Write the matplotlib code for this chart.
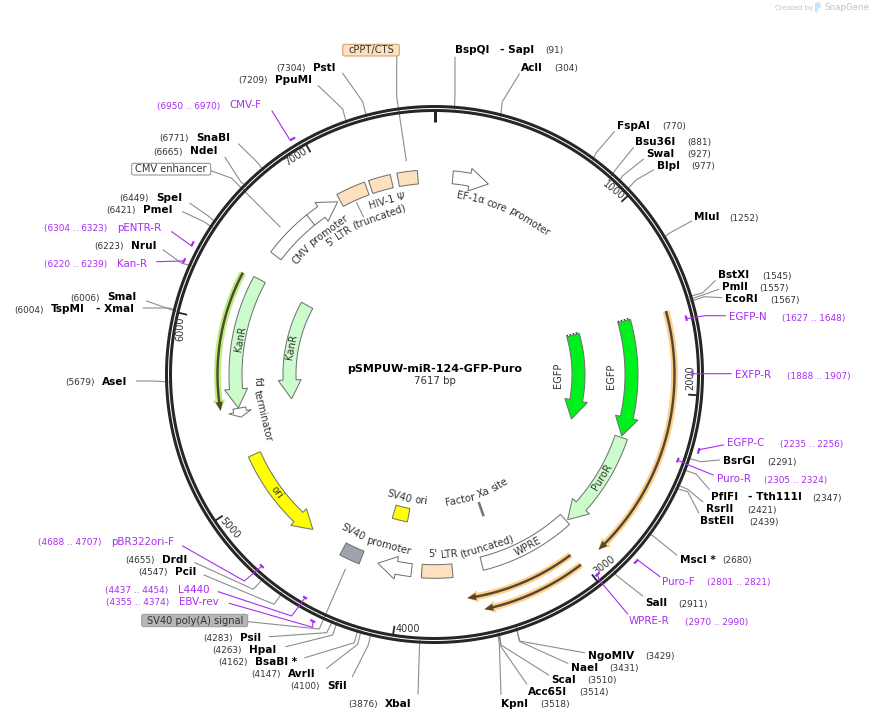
#!/usr/bin/env python3
# plasmid map of pSMPUW-miR-124-GFP-Puro
import numpy as np
import matplotlib
matplotlib.use('Agg')
from matplotlib import pyplot as plt
from matplotlib.patches import Polygon, FancyBboxPatch
from matplotlib.textpath import TextPath
from matplotlib.font_manager import FontProperties

plasmid_name = 'pSMPUW-miR-124-GFP-Puro'
plasmid_len = 7617
tick_bp = [1000, 2000, 3000, 4000, 5000, 6000, 7000]

# restriction sites
site_names = ['BspQI', 'AclI', 'FspAI', 'Bsu36I', 'SwaI', 'BlpI', 'MluI', 'BstXI', 'PmlI',
              'EcoRI', 'BsrGI', 'PflFI', 'RsrII', 'BstEII', 'MscI *', 'SalI', 'NgoMIV', 'NaeI',
              'ScaI', 'Acc65I', 'KpnI', 'XbaI', 'SfiI', 'AvrII', 'BsaBI *', 'HpaI', 'PsiI',
              'PciI', 'DrdI', 'AseI', 'TspMI', 'SmaI', 'NruI', 'PmeI', 'SpeI', 'NdeI', 'SnaBI',
              'PpuMI', 'PstI']
site_bp = [91, 304, 770, 881, 927, 977, 1252, 1545, 1557,
           1567, 2291, 2347, 2421, 2439, 2680, 2911, 3429, 3431,
           3510, 3514, 3518, 3876, 4100, 4147, 4162, 4263, 4283,
           4547, 4655, 5679, 6004, 6006, 6223, 6421, 6449, 6665, 6771,
           7209, 7304]
# second name of sites cut by an isoschizomer pair
site_extra = {'BspQI': '- SapI', 'PflFI': '- Tth111I', 'TspMI': '- XmaI'}

# primers
primer_names = ['EGFP-N', 'EXFP-R', 'EGFP-C', 'Puro-R', 'Puro-F', 'WPRE-R', 'EBV-rev', 'L4440',
                'pBR322ori-F', 'Kan-R', 'pENTR-R', 'CMV-F']
primer_start = [1627, 1888, 2235, 2305, 2801, 2970, 4355, 4437, 4688, 6220, 6304, 6950]
primer_end = [1648, 1907, 2256, 2324, 2821, 2990, 4374, 4454, 4707, 6239, 6323, 6970]

# directional features, tail -> tip in bp
arrow_names = ['CMV promoter', 'EF-1\u03b1 core promoter', 'EGFP', 'EGFP', 'PuroR', 'SV40 promoter',
               'ori', 'fd terminator', 'KanR', 'KanR']
arrow_tail = [6491, 112, 1572, 1570, 2298, 3950, 5207, 5506, 6316, 6316]
arrow_tip = [6997, 334, 2289, 2285, 2909, 4162, 4615, 5450, 5508, 5508]

# block features
block_names = ["5' LTR (truncated)", 'HIV-1 \u03a8', 'cPPT/CTS', 'WPRE', "5' LTR (truncated)",
               'SV40 ori', 'SV40 poly(A) signal']
block_start = [7014, 7219, 7393, 2920, 3698, 4029, 4268]
block_end = [7194, 7353, 7515, 3512, 3887, 4155, 4394]

cmv_enhancer_end = 6798
xa_site_bp = 3404

# thin translated features drawn near the backbone, tail -> tip
thin_tail = [1580, 3026, 3013, 6305]
thin_tip = [2897, 3633, 3555, 5508]

# ---- layout, all in pixels of the 872x721 picture ----
cx, cy = 434.5, 374.5
r_out = 269.5

# name x, number x, y, then the leader points from the knee outwards
site_layout = {
    'BspQI': (455.3, 545.3, 50, [(455, 93.3), (455, 57.3)]),
    'AclI': (521.3, 554.3, 68, [(502.3, 101.7), (519.3, 74)]),
    'FspAI': (617.3, 662.3, 126, [(596, 153), (614.3, 131.7)]),
    'Bsu36I': (635.3, 687.3, 142, [(615.3, 170), (633.3, 147.7)]),
    'SwaI': (646, 687.3, 154, [(622.7, 175.7), (643.3, 159.3)]),
    'BlpI': (657.3, 691.3, 166, [(636, 180), (653.3, 170)]),
    'MluI': (694.3, 729.3, 217, [(669.3, 233.3), (691.7, 221)]),
    'BstXI': (718.3, 762.3, 275, [(702.7, 292.7), (715.3, 280.7)]),
    'PmlI': (722.3, 759.3, 287, [(702.7, 295), (718.7, 289.3)]),
    'EcoRI': (725.3, 770.3, 299, [(704.3, 296.7), (721.7, 297.7)]),
    'BsrGI': (723.3, 767.3, 461, [(701, 461.7), (719.3, 460)]),
    'PflFI': (711.3, 812.3, 497, [(696, 474), (709.3, 489.3)]),
    'RsrII': (706.3, 747.3, 509, [(687.7, 489.3), (702.7, 501.7)]),
    'BstEII': (700.3, 749.3, 521, [(687.7, 491.7), (698.7, 512.7)]),
    'MscI *': (679.7, 722.3, 560, [(652.7, 535.7), (676.7, 555)]),
    'SalI': (645.3, 678.3, 603, [(616, 575), (642.7, 596)]),
    'NgoMIV': (588.3, 645.3, 656, [(519.3, 641), (584.3, 652.7)]),
    'NaeI': (570.7, 609.3, 668, [(520, 641.7), (567.7, 663.3)]),
    'ScaI': (551.3, 587.3, 680, [(501, 645), (548.7, 675)]),
    'Acc65I': (528.3, 579.3, 692, [(501, 646.7), (526.7, 684)]),
    'KpnI': (501.3, 540.7, 704, [(499.3, 643.3), (501, 694.3)]),
    'XbaI': (385, 348.3, 704, [(418, 694)]),
    'SfiI': (327.3, 290.3, 686, [(368.3, 645), (352.3, 676.7)]),
    'AvrII': (288, 251.3, 674, [(357.7, 644.3), (326.7, 668.3)]),
    'BsaBI *': (255.3, 218.3, 662, [(354.3, 642.7), (305, 657.7)]),
    'HpaI': (249.3, 212.3, 650, [(332.7, 635), (286, 646.7)]),
    'PsiI': (240.3, 203.3, 638, [(326.7, 632.7), (269.3, 636.7)]),
    'PciI': (175.3, 138.3, 572, [(274, 604.3), (204, 575)]),
    'DrdI': (162.3, 125.3, 560, [(253.3, 589.3), (195, 562.7)]),
    'AseI': (102.3, 65.3, 382, [(153, 381), (136.7, 381)]),
    'TspMI': (51, 14.3, 309, [(170, 308), (143.3, 308)]),
    'SmaI': (107, 70.7, 297, [(170, 309.3), (146.7, 301)]),
    'NruI': (131.3, 94.7, 246, [(181.7, 263.3), (163.3, 250)]),
    'PmeI': (143.3, 106.3, 210, [(204, 221.7), (182.7, 211.7)]),
    'SpeI': (156, 119.3, 198, [(208.3, 216), (190, 203.3)]),
    'NdeI': (190.3, 153.3, 151, [(240.7, 181.7), (225, 157.3)]),
    'SnaBI': (196.3, 159.3, 138, [(258.3, 163.3), (238.7, 144)]),
    'PpuMI': (275.3, 238.3, 80, [(342.7, 109), (318.3, 85.7)]),
    'PstI': (313.3, 276.7, 68, [(362.7, 101.7), (342.7, 73.3)]),
}
extra_x = {'BspQI': 500.3, 'PflFI': 747.7, 'TspMI': 95.7}

# name x, number x, y, mark radius, leader points from the mark outwards
primer_layout = {
    'EGFP-N': (729.3, 781.7, 317, 258, [(691, 318.3), (704.3, 315.7), (725.3, 315.7)]),
    'EXFP-R': (735.3, 786.7, 375, 258, [(692.7, 373.7), (731, 373.7)]),
    'EGFP-C': (727.3, 779.7, 443, 275, [(701, 449.3), (723.3, 445)]),
    'Puro-R': (717.3, 763.7, 479, 258, [(684.3, 463.3), (713.3, 475)]),
    'Puro-F': (662.3, 706.7, 582, 275, [(637.7, 560), (660, 576.7)]),
    'WPRE-R': (628.3, 684.7, 621, 258, [(599.3, 580), (627.7, 614)]),
    'EBV-rev': (179.3, 106.3, 602, 275, [(312.7, 627.3), (229.3, 603.3)]),
    'L4440': (178.3, 105.3, 590, 258, [(291.7, 616), (218.3, 591.7)]),
    'pBR322ori-F': (111.3, 38.3, 542, 258, [(244.3, 581), (182.7, 546)]),
    'Kan-R': (117.3, 44.3, 264, 275, [(181.7, 261), (156.7, 261.7)]),
    'pENTR-R': (117.3, 44.3, 228, 275, [(191.7, 246), (171.7, 231.7)]),
    'CMV-F': (229.3, 156.7, 105, 275, [(290, 140), (272, 111)]),
}

# centre of each tick number and its rotation
tick_text_xy = [(613, 190.7), (690, 378), (604, 565), (408, 629), (229.3, 528.3), (180, 328.3), (296, 156.7)]
tick_rot = [-39, 90, 37, 0, -48, 90, 33]

arrow_radius = [198, 198, 197, 144, 197, 197, 197, 198, 199, 145]
arrow_colors = ['white', 'white', '#00f01e', '#00f01e', '#ccfccc', 'white', '#ffff00', 'white',
                '#ccfccc', '#ccfccc']
block_radius = [198, 198, 198, 195, 197, 143, 197]
block_colors = ['#fde0bd', '#fde0bd', '#fde0bd', 'white', '#fde0bd', '#ffff00', '#9ea3ad']
thin_radius = [240, 226, 240, 217]
thin_band = ['#fdd08c', '#fdd08c', '#fdd08c', '#b8ee7c']

GREY = '#8c8c8c'
OUTLINE = '#707070'
PURPLE = '#a82cf2'
INK = '#333333'
FS_NAME, FS_NUM, FS_PRIMER, FS_FEAT = 7.6, 6.4, 7.4, 7.1


def theta(bp):
    return 2 * np.pi * np.asarray(bp, dtype=float) / plasmid_len


def polar(t, r):
    # t clockwise from 12 o'clock, y axis is inverted
    return cx + r * np.sin(t), cy - r * np.cos(t)


def arc_xy(t0, t1, r, n=40):
    t = np.linspace(t0, t1, n)
    x, y = polar(t, r)
    return np.column_stack([x, y])


def arrow_shape(bp_tail, bp_tip, r, half=6.5, head_half=11.5, head_len=19.0):
    t0, t1 = theta(bp_tail), theta(bp_tip)
    sign = 1 if t1 > t0 else -1
    tb = t1 - sign * head_len / r
    if (tb - t0) * sign < 0:
        tb = t0 + (t1 - t0) * 0.4
    pts = [arc_xy(t0, tb, r + half),
           np.array([polar(tb, r + head_half)]),
           np.array([polar(t1, r)]),
           np.array([polar(tb, r - head_half)]),
           arc_xy(tb, t0, r - half)]
    return np.vstack(pts)


def block_shape(bp0, bp1, r, half=6.8):
    t0, t1 = theta(bp0), theta(bp1)
    return np.vstack([arc_xy(t0, t1, r + half), arc_xy(t1, t0, r - half)])


def word_width(word, fs):
    tp = TextPath((0, 0), word, size=fs * 100 / 72, prop=FontProperties(family='DejaVu Sans'))
    return tp.get_extents().x1


def arc_text(label, r, deg_mid, flip=False, fs=FS_FEAT):
    # one text per word, each turned to the tangent at its own middle
    words = label.split(' ')
    gap = 0.318 * fs * 100 / 72
    widths = [word_width(w, fs) for w in words]
    total = sum(widths) + gap * (len(words) - 1)
    pos = -total / 2
    for w, wd in zip(words, widths):
        off = pos + wd / 2
        d = deg_mid + np.degrees(off / r) * (-1 if flip else 1)
        x, y = polar(np.radians(d), r)
        rot = 180 - d if flip else -d
        ax.text(x, y, w, fontsize=fs, color=INK, ha='center', va='center',
                rotation=rot, rotation_mode='anchor')
        pos += wd + gap


def px(w):
    return w * 0.72


fig = plt.figure(figsize=(8.72, 7.21), dpi=100)
ax = fig.add_axes([0, 0, 1, 1])
ax.set_xlim(0, 872)
ax.set_ylim(721, 0)
ax.axis('off')

# site leaders go under the backbone
for name, bp in zip(site_names, site_bp):
    name_x, num_x, y, leader = site_layout[name]
    start = polar(theta(bp), r_out - 3)
    pts = np.array([start] + leader)
    ax.plot(pts[:, 0], pts[:, 1], color=GREY, lw=px(1.1), zorder=1, solid_joinstyle='round')
    ax.text(name_x, y, name, fontsize=FS_NAME, fontweight='bold', color='black', va='center')
    ax.text(num_x, y + 1, '(%d)' % bp, fontsize=FS_NUM, color=INK, va='center')
    if name in site_extra:
        ax.text(extra_x[name], y, site_extra[name], fontsize=FS_NAME, fontweight='bold',
                color='black', va='center')

# leaders of the labelled boxes
box_leaders = [[(396.7, 56.7), (396.7, 96.7), (406.3, 160.7)],
               [(211, 170.7), (231.7, 178.3), (280, 226.7)],
               [(248.3, 621.7), (319.3, 629), (345.3, 569.3)],
               [(356.7, 202.7), (363.3, 216.7)]]
for line in box_leaders:
    pts = np.array(line)
    ax.plot(pts[:, 0], pts[:, 1], color=GREY, lw=px(1.1), zorder=1)

# backbone
circle = np.linspace(0, 2 * np.pi, 720)
for r in (r_out - 1.5, r_out - 5.5):
    x, y = polar(circle, r)
    ax.plot(x, y, color='#262626', lw=px(3.0), zorder=2)
x, y = polar(np.array([0, 0]), np.array([r_out - 6, r_out - 17]))
ax.plot(x, y, color='#262626', lw=px(3), zorder=2, solid_capstyle='butt')

for bp, (tx, ty), rot in zip(tick_bp, tick_text_xy, tick_rot):
    t = theta(bp)
    x, y = polar(np.array([t, t]), np.array([r_out - 6, r_out - 15]))
    ax.plot(x, y, color='#262626', lw=px(1.8), zorder=2, solid_capstyle='butt')
    ax.text(tx, ty, str(bp), fontsize=7, color=INK, ha='center', va='center', rotation=rot,
            rotation_mode='anchor')

# thin translated features
for tail, tip, r, band in zip(thin_tail, thin_tip, thin_radius, thin_band):
    ax.add_patch(Polygon(arrow_shape(tail, tip, r, 3.4, 6.2, 11), closed=True, fc=band, ec='none', zorder=3))
    ax.add_patch(Polygon(arrow_shape(tail, tip, r, 1.2, 3.6, 9), closed=True, fc='#544630', ec='none', zorder=4))

# directional features
for tail, tip, r, col in zip(arrow_tail, arrow_tip, arrow_radius, arrow_colors):
    ax.add_patch(Polygon(arrow_shape(tail, tip, r), closed=True, fc=col, ec=OUTLINE, lw=px(1), zorder=3))

# torn edge of the truncated EGFP arrows
for tail, r in ((arrow_tail[2], arrow_radius[2]), (arrow_tail[3], arrow_radius[3])):
    t = theta(tail) - 1.2 / r
    x, y = polar(np.array([t, t]), np.array([r - 6.5, r + 6.5]))
    ax.plot(x, y, color='#333333', lw=px(1.6), ls=(0, (1, 1)), zorder=4)

# divider between CMV enhancer and promoter
t = theta(cmv_enhancer_end)
x, y = polar(np.array([t, t]), np.array([arrow_radius[0] - 6.5, arrow_radius[0] + 6.5]))
ax.plot(x, y, color=OUTLINE, lw=px(1), zorder=4)

# blocks
for s, e, r, col in zip(block_start, block_end, block_radius, block_colors):
    ax.add_patch(Polygon(block_shape(s, e, r), closed=True, fc=col, ec=OUTLINE, lw=px(1), zorder=3))

# factor Xa mark
t = theta(xa_site_bp)
x, y = polar(np.array([t, t]), np.array([135, 150]))
ax.plot(x, y, color='#777777', lw=px(2.6), zorder=3, solid_capstyle='butt')

# primers
for name, s, e in zip(primer_names, primer_start, primer_end):
    name_x, num_x, y, r, leader = primer_layout[name]
    mid = theta((s + e) / 2)
    ts = arc_xy(theta(s) - 0.002, theta(e) + 0.002, r, 8)
    ax.plot(ts[:, 0], ts[:, 1], color=PURPLE, lw=px(2.2), zorder=5, solid_capstyle='butt')
    pts = np.array([polar(mid, r)] + leader)
    ax.plot(pts[:, 0], pts[:, 1], color=PURPLE, lw=px(1.1), zorder=5)
    ax.text(name_x, y, name, fontsize=FS_PRIMER, color=PURPLE, va='center')
    ax.text(num_x, y + 1, '(%d .. %d)' % (s, e), fontsize=FS_NUM, color=PURPLE, va='center')

# labels along the arcs
arc_text('CMV promoter', 179, -40.3)
arc_text("5' LTR (truncated)", 168, -24.7)
arc_text('HIV-1 \u03a8', 180, -15.3)
arc_text('EF-1\u03b1 core promoter', 180, 23.1)
arc_text('fd terminator', 177, -101.5, flip=True)
arc_text('SV40 promoter', 178, 199.5, flip=True)
arc_text('SV40 ori', 127, 192.5, flip=True)
arc_text('Factor Xa site', 128, 160.5, flip=True)
arc_text("5' LTR (truncated)", 180, 168, flip=True)
arc_text('EGFP', 124, 90.5, flip=True)
arc_text('EGFP', 176.5, 90.5, flip=True)
arc_text('WPRE', 195.7, 151.6, flip=True)
arc_text('PuroR', 196, 121.5, flip=True)
arc_text('ori', 197, -126.8, flip=True)
arc_text('KanR', 197, -79.5)
arc_text('KanR', 145.6, -79)

# boxed labels
boxes = [('cPPT/CTS', 342.7, 44.3, 56.6, 11.7, '#fde0bd', '#c89c6c'),
         ('CMV enhancer', 131.7, 163.3, 79, 11.7, 'white', '#8c8c8c'),
         ('SV40 poly(A) signal', 141.7, 614.3, 106, 12.4, '#b4b6ba', '#9a9a9a')]
for label, x0, y0, w, h, fc, ec in boxes:
    ax.add_patch(FancyBboxPatch((x0 + 2, y0 + 2), w - 4, h - 4, boxstyle='round,pad=2', fc=fc, ec=ec,
                                lw=px(1), zorder=4))
    ax.text(x0 + w / 2, y0 + h / 2, label, fontsize=FS_FEAT, color=INK, ha='center', va='center', zorder=5)

# title in the middle
ax.text(cx, 369, plasmid_name, fontsize=8, fontweight='bold', color='black', ha='center', va='center')
ax.text(cx, 381, '%d bp' % plasmid_len, fontsize=7.3, color=INK, ha='center', va='center')

# watermark
ax.text(775, 8, 'Created by', fontsize=5, color='#c4c4c4', va='center')
ax.add_patch(Polygon([(815, 3), (820, 2), (821, 7), (818, 9), (817, 13), (815, 12)], closed=True,
                     fc='#c4e6f8', ec='none'))
ax.text(824, 8, 'SnapGene', fontsize=6.3, color='#c4c4c4', va='center')

plt.savefig('out.png', dpi=100)
